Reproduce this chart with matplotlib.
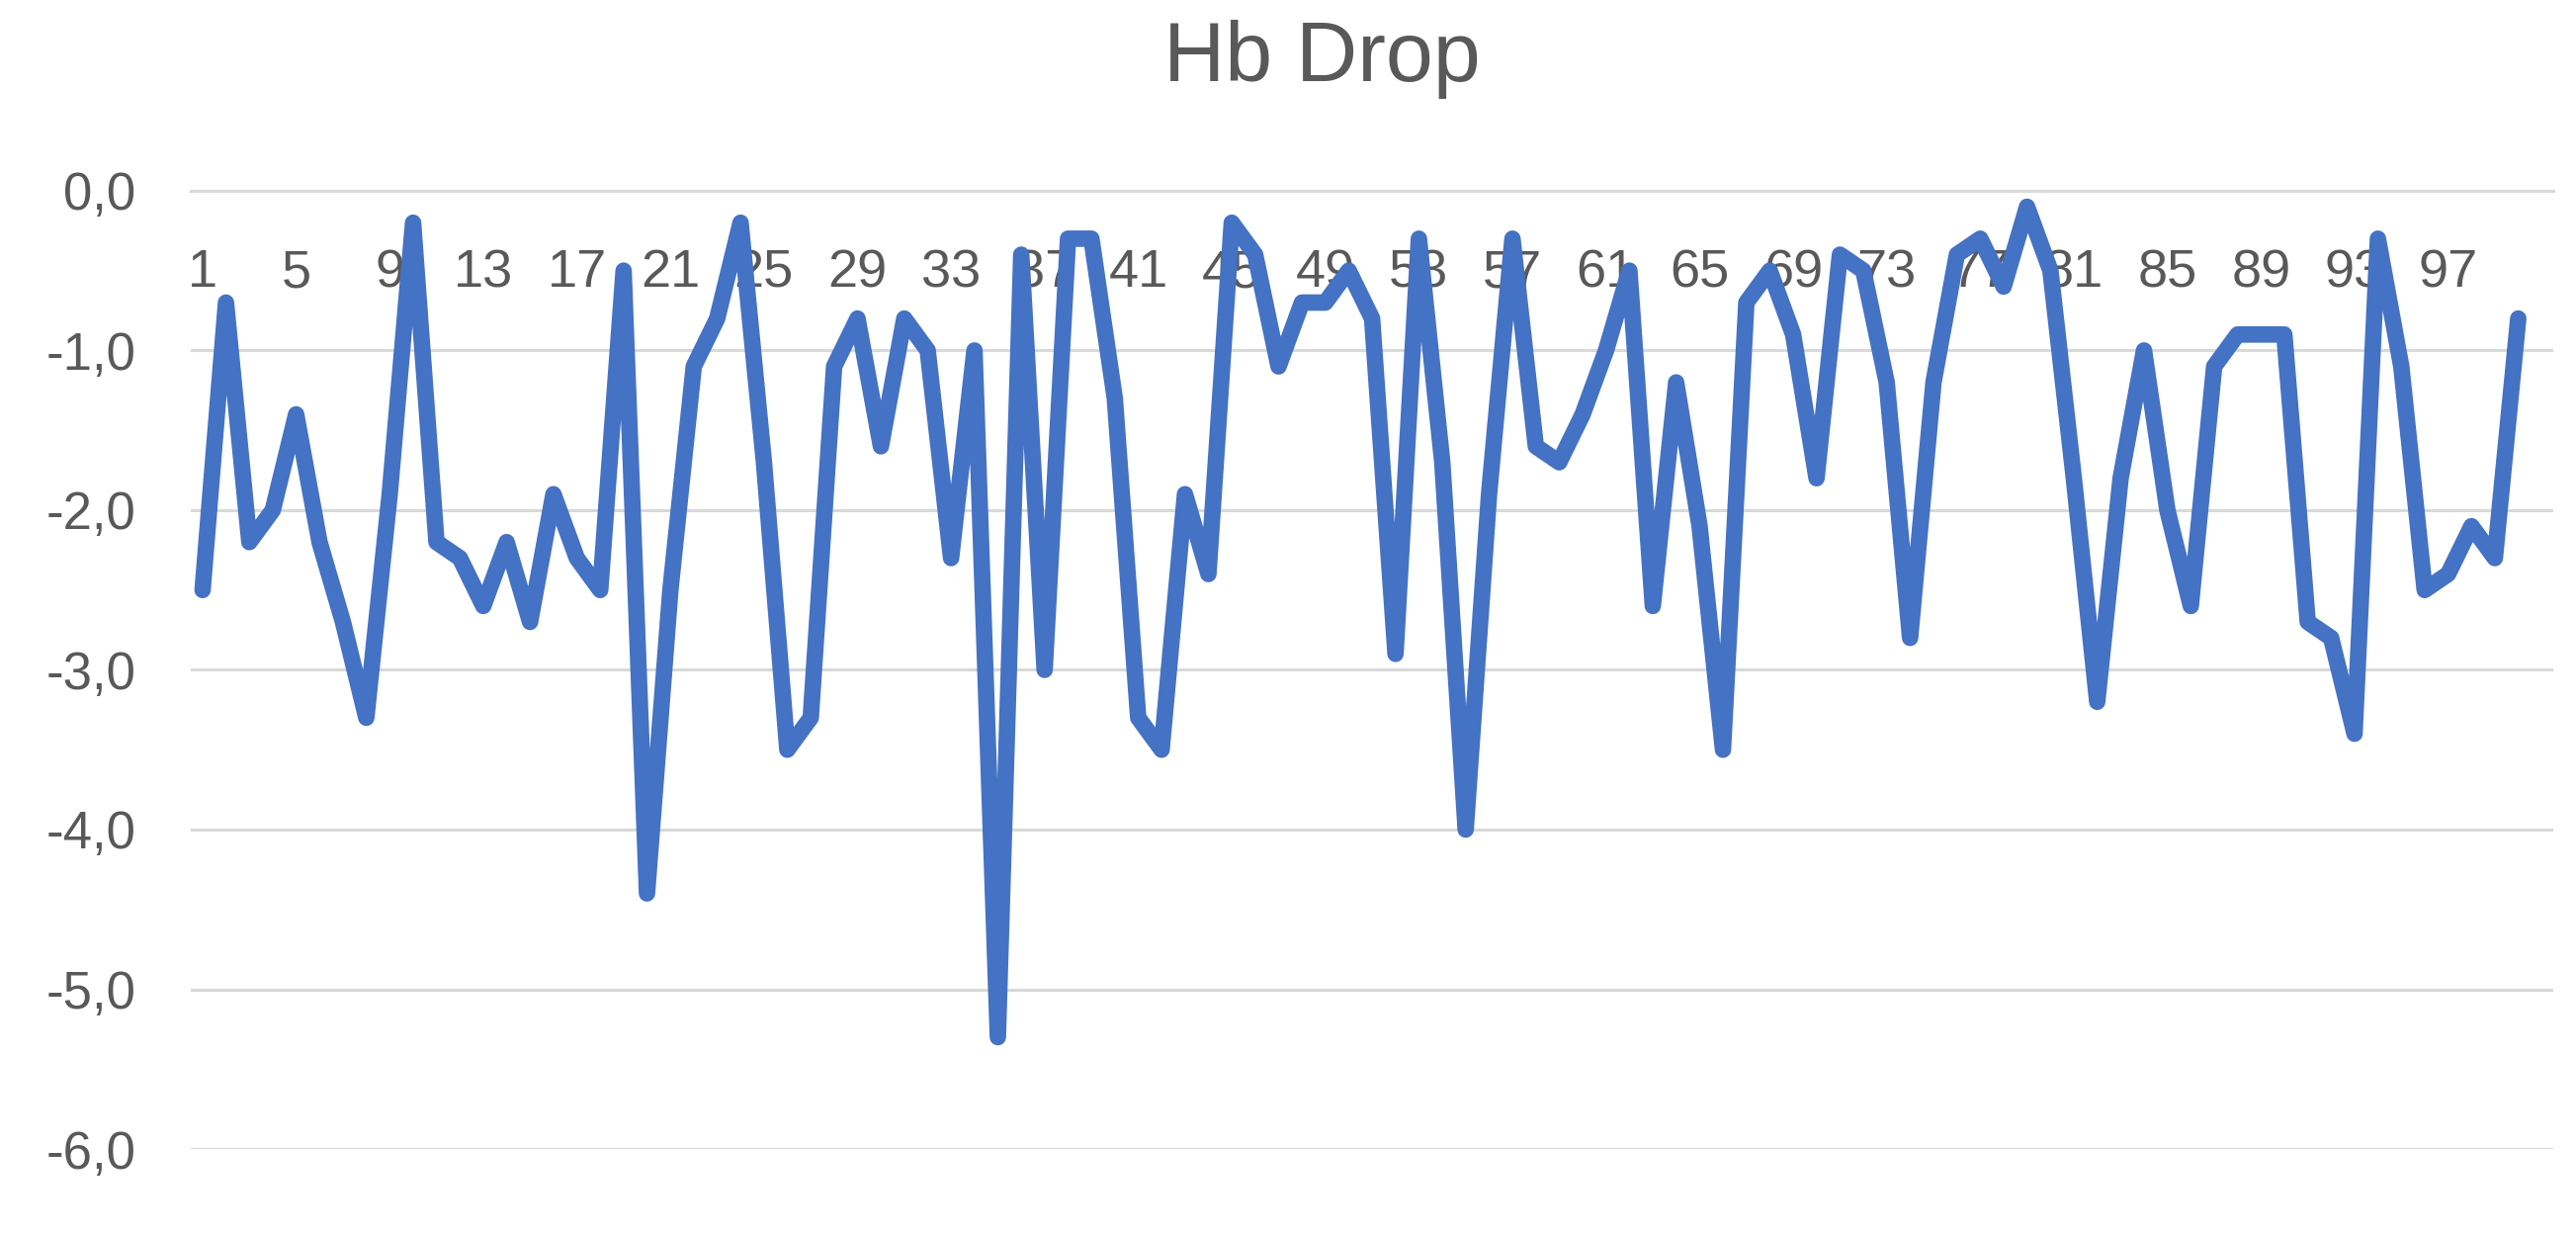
import matplotlib.pyplot as plt
import matplotlib.ticker as mticker

# Hb drop per patient
patients = list(range(1, 101))
hb_drop = [
    -2.5, -0.7, -2.2, -2.0, -1.4, -2.2, -2.7, -3.3, -1.9, -0.2,
    -2.2, -2.3, -2.6, -2.2, -2.7, -1.9, -2.3, -2.5, -0.5, -4.4,
    -2.5, -1.1, -0.8, -0.2, -1.7, -3.5, -3.3, -1.1, -0.8, -1.6,
    -0.8, -1.0, -2.3, -1.0, -5.3, -0.4, -3.0, -0.3, -0.3, -1.3,
    -3.3, -3.5, -1.9, -2.4, -0.2, -0.4, -1.1, -0.7, -0.7, -0.5,
    -0.8, -2.9, -0.3, -1.7, -4.0, -1.9, -0.3, -1.6, -1.7, -1.4,
    -1.0, -0.5, -2.6, -1.2, -2.1, -3.5, -0.7, -0.5, -0.9, -1.8,
    -0.4, -0.5, -1.2, -2.8, -1.2, -0.4, -0.3, -0.6, -0.1, -0.5,
    -1.8, -3.2, -1.8, -1.0, -2.0, -2.6, -1.1, -0.9, -0.9, -0.9,
    -2.7, -2.8, -3.4, -0.3, -1.1, -2.5, -2.4, -2.1, -2.3, -0.8,
]
x_ticks = list(range(1, 101, 4))
y_ticks = [0, -1, -2, -3, -4, -5, -6]

text_color = '#595959'
grid_color = '#D9D9D9'
line_color = '#4472C4'

plt.rcParams['font.family'] = ['Liberation Sans', 'DejaVu Sans']

fig = plt.figure(figsize=(26.06, 12.48), dpi=100)
ax = fig.add_axes([0.0741, 0.0689, 0.9171, 0.7765])

ax.plot(patients, hb_drop, color=line_color, linewidth=12,
        solid_joinstyle='round', solid_capstyle='round', zorder=3, clip_on=False)

ax.set_xlim(0.5, 101.5)
ax.set_ylim(-6, 0)

# horizontal gridlines
ax.set_yticks(y_ticks)
ax.yaxis.grid(True, color=grid_color, linewidth=2.2)
ax.set_axisbelow(True)
ax.yaxis.set_major_formatter(mticker.FuncFormatter(lambda v, p: f"{v:.1f}".replace('.', ',')))
ax.tick_params(axis='y', length=0, pad=40, labelsize=38, labelcolor=text_color)

# category axis crosses at zero, labels sit just under it
ax.spines['bottom'].set_position(('data', 0))
ax.spines['bottom'].set_color(grid_color)
ax.spines['bottom'].set_linewidth(2.2)
for s in ['top', 'left', 'right']:
    ax.spines[s].set_visible(False)
ax.set_xticks(x_ticks)
ax.set_xticklabels([str(t) for t in x_ticks])
ax.tick_params(axis='x', length=0, pad=42, labelsize=39, labelcolor=text_color)

fig.text(0.513, 0.934, "Hb Drop", ha='center', va='baseline', fontsize=62, color=text_color)

fig.savefig('out.png', dpi=100, facecolor='white')
